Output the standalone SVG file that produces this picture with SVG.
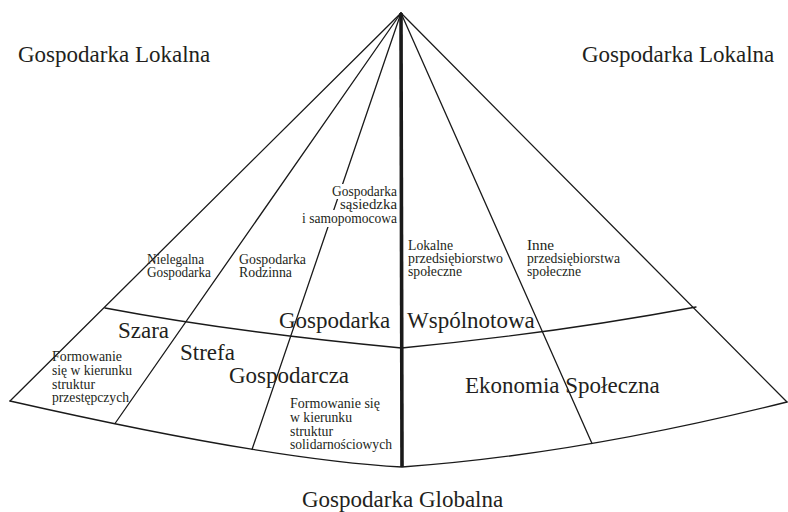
<svg xmlns="http://www.w3.org/2000/svg" width="788" height="512" viewBox="0 0 788 512">
<style>
.ln{fill:none;stroke:#1a1a1a;stroke-width:1.3;stroke-linecap:round}
.thick{fill:none;stroke:#1a1a1a;stroke-width:3.6}
.big{font-family:"Liberation Serif","Times New Roman",serif;font-size:23px;fill:#231f20}
.sm{font-family:"Liberation Serif","Times New Roman",serif;font-size:14px;fill:#231f20}
.bg{fill:#ffffff}
</style>
<rect width="788" height="512" fill="#ffffff"/>
<g id="connectors">
  <line class="ln" x1="401" y1="13" x2="10" y2="401"/>
  <line class="ln" x1="401" y1="13" x2="115" y2="423.5"/>
  <line class="ln" x1="401" y1="13" x2="252" y2="449.5"/>
  <line class="ln" x1="401" y1="13" x2="592" y2="443.5"/>
  <line class="ln" x1="401" y1="13" x2="787" y2="402"/>
  <path class="ln" d="M105,308 Q232,332 401.5,348 Q557,333 696,307"/>
  <path class="ln" d="M10,401 Q270,460 402,467 Q575.6,454.8 787,402"/>
  <line class="thick" x1="401" y1="13" x2="402" y2="467"/>
</g>
<g id="outer-labels">
  <text class="big" x="18" y="62" font-size="23.5">Gospodarka Lokalna</text>
  <text class="big" x="582" y="62" font-size="23.5">Gospodarka Lokalna</text>
  <text class="big" x="302" y="507" font-size="23.5">Gospodarka Globalna</text>
</g>
<g id="node-sasiedzka">
  <rect class="bg" x="331" y="184" width="67" height="15"/>
  <rect class="bg" x="300" y="210" width="98" height="17"/>
  <text class="sm" text-anchor="end" x="397" y="196" textLength="65" lengthAdjust="spacingAndGlyphs">Gospodarka</text>
  <text class="sm" text-anchor="end" x="397" y="209" textLength="57" lengthAdjust="spacingAndGlyphs">sąsiedzka</text>
  <text class="sm" text-anchor="end" x="397" y="223" textLength="95" lengthAdjust="spacingAndGlyphs">i samopomocowa</text>
</g>
<g id="node-nielegalna">
  <text class="sm" x="147" y="264" textLength="57" lengthAdjust="spacingAndGlyphs">Nielegalna</text>
  <text class="sm" x="147" y="277" textLength="64" lengthAdjust="spacingAndGlyphs">Gospodarka</text>
</g>
<g id="node-rodzinna">
  <text class="sm" x="239" y="264" textLength="67" lengthAdjust="spacingAndGlyphs">Gospodarka</text>
  <text class="sm" x="239" y="277" textLength="53" lengthAdjust="spacingAndGlyphs">Rodzinna</text>
</g>
<g id="node-lokalne">
  <text class="sm" x="408" y="250" textLength="45" lengthAdjust="spacingAndGlyphs">Lokalne</text>
  <text class="sm" x="408" y="263" textLength="95" lengthAdjust="spacingAndGlyphs">przedsiębiorstwo</text>
  <text class="sm" x="408" y="275.5" textLength="54" lengthAdjust="spacingAndGlyphs">społeczne</text>
</g>
<g id="node-inne">
  <text class="sm" x="527" y="250" textLength="27" lengthAdjust="spacingAndGlyphs">Inne</text>
  <text class="sm" x="527" y="263" textLength="93" lengthAdjust="spacingAndGlyphs">przedsiębiorstwa</text>
  <text class="sm" x="527" y="275.5" textLength="54" lengthAdjust="spacingAndGlyphs">społeczne</text>
</g>
<g id="node-wspolnotowa">
  <text class="big" x="279" y="328">Gospodarka</text>
  <text class="big" x="407" y="328">Wspólnotowa</text>
</g>
<g id="node-szara-strefa">
  <text class="big" x="118" y="338">Szara</text>
  <text class="big" x="180" y="360">Strefa</text>
  <text class="big" x="229" y="383">Gospodarcza</text>
</g>
<g id="node-przestepcze">
  <text class="sm" x="52" y="361" textLength="70" lengthAdjust="spacingAndGlyphs">Formowanie</text>
  <text class="sm" x="52" y="375" textLength="80" lengthAdjust="spacingAndGlyphs">się w kierunku</text>
  <text class="sm" x="52" y="388.5" textLength="43" lengthAdjust="spacingAndGlyphs">struktur</text>
  <text class="sm" x="52" y="402" textLength="77" lengthAdjust="spacingAndGlyphs">przestępczych</text>
</g>
<g id="node-solidarnosciowe">
  <text class="sm" x="290" y="408" textLength="90" lengthAdjust="spacingAndGlyphs">Formowanie się</text>
  <text class="sm" x="290" y="422" textLength="62" lengthAdjust="spacingAndGlyphs">w kierunku</text>
  <text class="sm" x="290" y="435.5" textLength="43" lengthAdjust="spacingAndGlyphs">struktur</text>
  <text class="sm" x="290" y="449" textLength="102" lengthAdjust="spacingAndGlyphs">solidarnościowych</text>
</g>
<g id="node-ekonomia">
  <text class="big" x="465" y="393">Ekonomia Społeczna</text>
</g>
</svg>
